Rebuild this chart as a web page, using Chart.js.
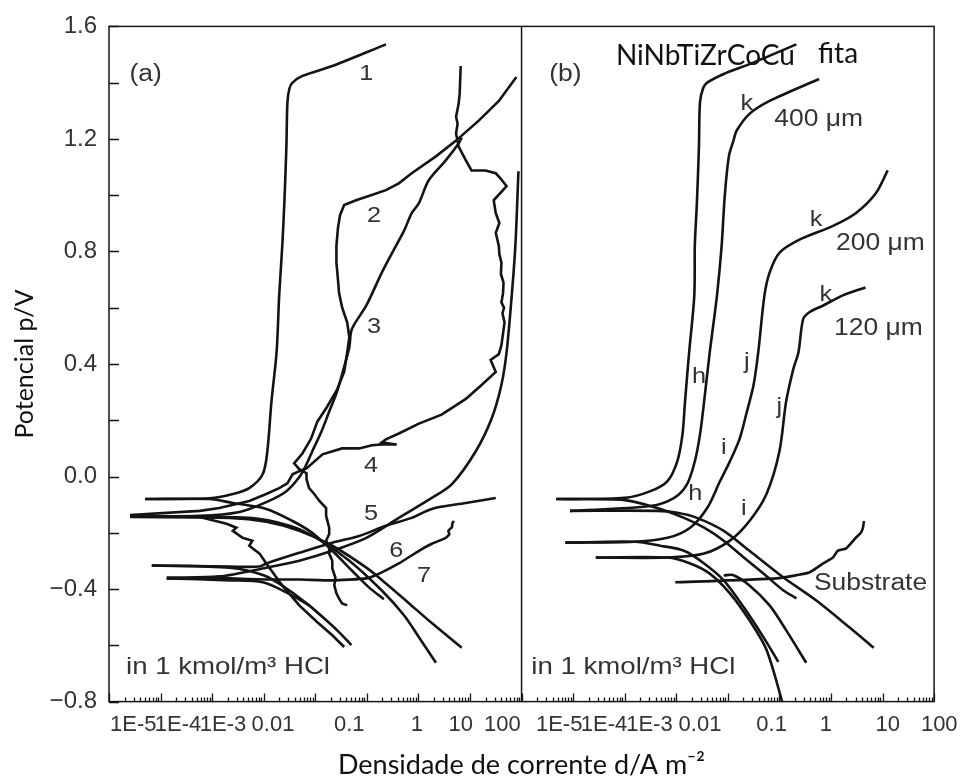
<!DOCTYPE html>
<html>
<head>
<meta charset="utf-8">
<title>Curvas de polarização em HCl</title>
<script src="https://cdn.jsdelivr.net/npm/chart.js@4.4.1/dist/chart.umd.min.js"></script>
<style>
  html, body { margin: 0; padding: 0; background: #fff; }
  #chart { display: block; }
</style>
</head>
<body>
<canvas id="chart" width="965" height="784"></canvas>
<script>
// Values: [log10 of current density (A/m2), potential (V)]

// x tick labels, shared by both panels, and where they sit (log10 units)
const xTickLabels = ["1E-5", "1E-4", "1E-3", "0.01", "0.1", "1", "10", "100"];
const panelATickAt = [-5.53, -4.66, -3.79, -2.82, -1.34, -0.03, 0.82, 1.63];
const panelBTickAt = [-5.27, -4.40, -3.52, -2.54, -1.15, -0.10, 1.10, 2.10];

// panel (a), curves 1..7
const curve1Anodic = [[-5.30,-0.080],[-4.05,-0.077],[-3.60,-0.062],[-3.28,-0.041],[-3.02,0.008],[-2.93,0.089],[-2.85,0.266],[-2.75,0.442],[-2.70,0.643],[-2.64,0.820],[-2.60,0.972],[-2.56,1.173],[-2.54,1.330],[-2.50,1.380],[-2.44,1.400],[-2.25,1.424],[-1.67,1.459],[-0.63,1.536]];
const curve1Cathodic = [[-5.30,-0.080],[-4.05,-0.080],[-3.60,-0.094],[-2.95,-0.115],[-2.44,-0.158],[-2.06,-0.200],[-1.67,-0.264],[-1.29,-0.334],[-0.96,-0.394],[-0.67,-0.436]];
const curve2 = [[-1.38,-0.458],[-1.48,-0.451],[-1.54,-0.433],[-1.59,-0.415],[-1.63,-0.387],[-1.61,-0.359],[-1.67,-0.327],[-1.67,-0.299],[-1.73,-0.274],[-1.73,-0.253],[-1.79,-0.228],[-1.73,-0.204],[-1.73,-0.182],[-1.79,-0.140],[-1.79,-0.112],[-1.92,-0.087],[-2.02,-0.062],[-2.12,-0.041],[-2.17,-0.009],[-2.17,0.012],[-2.31,0.026],[-2.41,0.047],[-2.25,0.082],[-2.08,0.135],[-1.96,0.195],[-1.77,0.248],[-1.58,0.308],[-1.44,0.372],[-1.38,0.442],[-1.34,0.495],[-1.38,0.547],[-1.48,0.601],[-1.54,0.654],[-1.56,0.700],[-1.59,0.760],[-1.59,0.820],[-1.56,0.884],[-1.52,0.929],[-1.44,0.965],[-1.21,0.982],[-0.92,1.000],[-0.63,1.018],[-0.38,1.042],[-0.13,1.078],[0.34,1.138],[0.73,1.194],[1.17,1.265],[1.56,1.335],[1.90,1.420]];
const curve3 = [[-5.59,-0.140],[-4.24,-0.140],[-3.47,-0.126],[-2.95,-0.091],[-2.56,-0.052],[-2.31,-0.002],[-2.17,0.044],[-2.06,0.089],[-1.88,0.160],[-1.73,0.231],[-1.58,0.301],[-1.44,0.390],[-1.34,0.460],[-1.29,0.524],[-1.01,0.608],[-0.71,0.725],[-0.51,0.795],[-0.28,0.873],[-0.13,0.936],[0.01,0.972],[0.20,1.053],[0.53,1.124],[0.78,1.184],[0.84,1.205]];
const curve4 = [[-5.59,-0.137],[-4.24,-0.122],[-3.86,-0.112],[-3.28,-0.087],[-2.95,-0.062],[-2.70,-0.041],[-2.54,-0.024],[-2.44,0.008],[-2.31,0.019],[-2.17,0.029],[-1.86,0.079],[-1.48,0.100],[-1.15,0.100],[-0.90,0.111],[-0.71,0.114],[-0.42,0.114],[-0.71,0.121],[-0.63,0.132],[-0.38,0.153],[0.01,0.188],[0.45,0.220],[0.92,0.276],[1.23,0.326],[1.50,0.372],[1.40,0.414],[1.56,0.435],[1.61,0.467],[1.67,0.548],[1.63,0.580],[1.66,0.600],[1.61,0.619],[1.64,0.650],[1.65,0.689],[1.60,0.720],[1.61,0.760],[1.57,0.790],[1.56,0.820],[1.50,0.866],[1.57,0.901],[1.50,0.936],[1.46,0.982],[1.71,1.032],[1.59,1.060],[1.50,1.078],[1.30,1.088],[1.03,1.088],[0.92,1.124],[0.78,1.173],[0.73,1.219],[0.76,1.254],[0.73,1.279],[0.78,1.325],[0.80,1.360],[0.82,1.459]];
const curve5 = [[-5.17,-0.316],[-3.66,-0.320],[-3.08,-0.320],[-2.95,-0.309],[-2.31,-0.271],[-1.67,-0.235],[-1.15,-0.211],[-0.63,-0.175],[-0.13,-0.147],[0.26,-0.115],[0.92,-0.094],[1.50,-0.076]];
const curve6 = [[-4.88,-0.359],[-3.86,-0.355],[-2.95,-0.324],[-2.31,-0.299],[-1.67,-0.264],[-1.01,-0.218],[-0.38,-0.147],[0.26,-0.076],[0.65,-0.027],[1.11,0.089],[1.42,0.206],[1.61,0.326],[1.71,0.442],[1.81,0.644],[1.88,0.820],[1.94,1.085]];
const curve7 = [[-4.88,-0.362],[-3.66,-0.362],[-2.95,-0.366],[-2.31,-0.366],[-1.67,-0.369],[-1.01,-0.362],[-0.76,-0.345],[-0.38,-0.309],[0.01,-0.264],[0.26,-0.239],[0.53,-0.218],[0.60,-0.205],[0.58,-0.193],[0.65,-0.180],[0.66,-0.165],[0.69,-0.158]];
const cathodicA1 = [[-5.59,-0.144],[-3.66,-0.147],[-2.95,-0.161],[-2.31,-0.193],[-1.67,-0.246],[-1.01,-0.324],[-0.63,-0.380],[-0.18,-0.451],[0.26,-0.521],[0.84,-0.609]];
const cathodicA2 = [[-5.59,-0.140],[-3.28,-0.147],[-2.50,-0.175],[-1.98,-0.218],[-1.34,-0.299],[-0.71,-0.405],[-0.28,-0.493],[0.01,-0.571],[0.34,-0.662]];
const cathodicA3 = [[-5.59,-0.140],[-4.24,-0.144],[-3.72,-0.168],[-3.53,-0.182],[-3.60,-0.193],[-3.41,-0.218],[-3.22,-0.228],[-3.28,-0.246],[-3.08,-0.274],[-2.95,-0.309],[-2.64,-0.387],[-2.31,-0.458],[-1.96,-0.518],[-1.67,-0.564],[-1.44,-0.606]];
const cathodicA4 = [[-5.17,-0.316],[-3.66,-0.324],[-2.99,-0.352],[-2.50,-0.405],[-2.12,-0.458],[-1.83,-0.504],[-1.54,-0.553],[-1.30,-0.599]];
const cathodicA5 = [[-4.88,-0.362],[-3.66,-0.369],[-3.02,-0.376],[-2.56,-0.412],[-2.12,-0.458]];

// panel (b), NiNbTiZrCoCu ribbon, coatings and substrate
const ribbonAnodic = [[-5.33,-0.080],[-4.00,-0.076],[-3.50,-0.052],[-3.17,-0.016],[-2.98,0.054],[-2.88,0.149],[-2.83,0.266],[-2.75,0.442],[-2.65,0.644],[-2.64,0.820],[-2.60,0.972],[-2.56,1.173],[-2.54,1.330],[-2.48,1.380],[-2.40,1.400],[-2.08,1.431],[-1.58,1.466],[-0.67,1.536]];
const ribbonCathodic = [[-5.33,-0.080],[-4.00,-0.084],[-3.37,-0.112],[-2.85,-0.147],[-2.46,-0.182],[-2.08,-0.228],[-1.69,-0.288],[-1.31,-0.345],[-0.92,-0.405],[-0.67,-0.433]];
const coat400Anodic = [[-5.06,-0.122],[-3.50,-0.105],[-3.04,-0.076],[-2.79,-0.027],[-2.64,0.054],[-2.54,0.149],[-2.46,0.266],[-2.35,0.442],[-2.21,0.644],[-2.12,0.820],[-2.06,0.996],[-1.98,1.138],[-1.89,1.194],[-1.83,1.229],[-1.58,1.289],[-1.19,1.335],[-0.23,1.413]];
const coat400Cathodic = [[-5.06,-0.122],[-3.37,-0.122],[-2.98,-0.129],[-2.60,-0.147],[-2.08,-0.193],[-1.58,-0.264],[-0.92,-0.359],[-0.29,-0.440],[0.35,-0.535],[0.83,-0.609]];
const coat200Anodic = [[-5.15,-0.235],[-3.81,-0.232],[-3.17,-0.218],[-2.73,-0.182],[-2.40,-0.112],[-2.15,-0.016],[-1.96,0.054],[-1.77,0.135],[-1.63,0.231],[-1.50,0.326],[-1.41,0.442],[-1.29,0.644],[-1.19,0.725],[-1.00,0.795],[-0.62,0.841],[0.04,0.891],[0.48,0.936],[0.87,1.007],[1.10,1.088]];
const coat200Cathodic = [[-5.15,-0.235],[-3.81,-0.232],[-3.31,-0.246],[-2.85,-0.264],[-2.46,-0.309],[-2.08,-0.369],[-1.69,-0.465],[-1.31,-0.571],[-1.02,-0.659]];
const coat120Anodic = [[-4.56,-0.288],[-3.17,-0.288],[-2.46,-0.274],[-1.96,-0.228],[-1.58,-0.158],[-1.25,-0.062],[-1.00,0.089],[-0.87,0.266],[-0.73,0.382],[-0.63,0.442],[-0.54,0.559],[-0.42,0.584],[-0.15,0.608],[0.23,0.644],[0.67,0.672]];
const coat120Cathodic = [[-4.56,-0.288],[-3.17,-0.288],[-2.73,-0.309],[-2.35,-0.345],[-1.96,-0.415],[-1.58,-0.511],[-1.25,-0.616],[-0.90,-0.830]];
const substrateAnodic = [[-3.02,-0.376],[-1.06,-0.362],[-0.42,-0.341],[-0.15,-0.309],[0.04,-0.288],[0.13,-0.264],[0.29,-0.256],[0.38,-0.239],[0.48,-0.218],[0.58,-0.200],[0.62,-0.182],[0.64,-0.158]];
const substrateCathodic = [[-2.08,-0.352],[-1.90,-0.350],[-1.58,-0.387],[-1.19,-0.458],[-0.87,-0.546],[-0.48,-0.662]];

const ink = "#141414";
const textInk = "#333333";
const helv = "'Liberation Sans', Arial, sans-serif";
const calibriLike = "Lato, 'Open Sans', sans-serif";

// text placed on the plot, anchored in data units of its panel
const notes = [
	{ axis: "xa", text: "(a)", lg: -5.29, e: 1.427, style: "panel" },
	{ axis: "xa", text: "1", lg: -1.01, e: 1.431, style: "mark" },
	{ axis: "xa", text: "2", lg: -0.86, e: 0.926, style: "mark" },
	{ axis: "xa", text: "3", lg: -0.86, e: 0.531, style: "mark" },
	{ axis: "xa", text: "4", lg: -0.92, e: 0.036, style: "mark" },
	{ axis: "xa", text: "5", lg: -0.92, e: -0.133, style: "mark" },
	{ axis: "xa", text: "6", lg: -0.43, e: -0.264, style: "mark" },
	{ axis: "xa", text: "7", lg: 0.11, e: -0.352, style: "mark" },
	{ axis: "xa", text: "in 1 kmol/m\u00b3 HCl", lg: -5.67, e: -0.68, style: "medium", align: "left" },
	{ axis: "xb", text: "(b)", lg: -5.15, e: 1.427, style: "panel" },
	{ axis: "xb", text: "NiNbTiZrCoCu", lg: -4.17, e: 1.494, style: "added", align: "left" },
	{ axis: "xb", text: "fita", lg: -0.25, e: 1.501, style: "added", align: "left" },
	{ axis: "xb", text: "400 \u03bcm", lg: -1.10, e: 1.268, style: "size", align: "left" },
	{ axis: "xb", text: "200 \u03bcm", lg: 0.10, e: 0.827, style: "size", align: "left" },
	{ axis: "xb", text: "120 \u03bcm", lg: 0.06, e: 0.527, style: "size", align: "left" },
	{ axis: "xb", text: "Substrate", lg: -0.33, e: -0.38, style: "size", align: "left" },
	{ axis: "xb", text: "k", lg: -1.63, e: 1.325, style: "mark" },
	{ axis: "xb", text: "k", lg: -0.29, e: 0.912, style: "mark" },
	{ axis: "xb", text: "k", lg: -0.10, e: 0.644, style: "mark" },
	{ axis: "xb", text: "h", lg: -2.56, e: 0.354, style: "mark" },
	{ axis: "xb", text: "h", lg: -2.63, e: -0.062, style: "mark" },
	{ axis: "xb", text: "i", lg: -2.08, e: 0.100, style: "mark" },
	{ axis: "xb", text: "i", lg: -1.69, e: -0.115, style: "mark" },
	{ axis: "xb", text: "j", lg: -1.63, e: 0.407, style: "mark" },
	{ axis: "xb", text: "j", lg: -1.00, e: 0.248, style: "mark" },
	{ axis: "xb", text: "in 1 kmol/m\u00b3 HCl", lg: -5.81, e: -0.68, style: "medium", align: "left" },
];

const noteStyles = {
	panel: { font: "23px " + helv, stretch: 1.15 },
	mark: { font: "22px " + helv, stretch: 1.15 },
	size: { font: "23px " + helv, stretch: 1.15 },
	medium: { font: "24px " + helv, stretch: 1.15 },
	added: { font: "28px " + calibriLike, stretch: 1 },
};

function points(pairs) {
	return pairs.map(([lg, e]) => ({ x: Math.pow(10, lg), y: e }));
}

function curve(pairs, axis, tension) {
	return {
		data: points(pairs),
		xAxisID: axis,
		yAxisID: "y",
		showLine: true,
		fill: false,
		borderColor: ink,
		borderWidth: 2.6,
		pointRadius: 0,
		pointHoverRadius: 0,
		tension: tension === undefined ? 0.3 : tension,
	};
}

function panelAxis(tickAt) {
	return {
		type: "logarithmic",
		position: "bottom",
		stack: "current",
		stackWeight: 1,
		min: 1e-6,
		max: 100,
		grid: { display: false, drawTicks: false },
		border: { display: false },
		afterBuildTicks(scale) {
			scale.ticks = tickAt.map((lg) => ({ value: Math.pow(10, lg) }));
		},
		afterFit(scale) {
			scale.height = 40;
		},
		ticks: {
			autoSkip: false,
			maxRotation: 0,
			minRotation: 0,
			padding: 10,
			color: textInk,
			font: { family: helv, size: 22 },
			callback: (value, index) => xTickLabels[index],
		},
	};
}

// frame, panel divider and the inward tick marks
const framePlugin = {
	id: "frame",
	afterDatasetsDraw(chart) {
		const { ctx, chartArea: a, scales } = chart;
		ctx.save();
		ctx.strokeStyle = ink;
		ctx.lineWidth = 1.5;
		ctx.strokeRect(a.left, a.top, a.right - a.left, a.bottom - a.top);
		ctx.beginPath();
		ctx.moveTo(scales.xb.left, a.top);
		ctx.lineTo(scales.xb.left, a.bottom);
		ctx.stroke();

		ctx.lineWidth = 1.3;
		ctx.beginPath();
		[scales.xa, scales.xb].forEach((s) => {
			for (let d = -6; d <= 2; d++) {
				for (let m = 1; m <= 9; m++) {
					const v = m * Math.pow(10, d);
					if (v < s.min * 0.999 || v > s.max * 1.001) continue;
					const x = Math.round(s.getPixelForValue(v)) + 0.5;
					ctx.moveTo(x, a.bottom);
					ctx.lineTo(x, a.bottom - (m === 1 ? 8 : 4));
				}
			}
		});
		for (let k = 0; k <= 12; k++) {
			const y = Math.round(scales.y.getPixelForValue(-0.8 + k * 0.2)) + 0.5;
			ctx.moveTo(a.left, y);
			ctx.lineTo(a.left + 10, y);
		}
		ctx.stroke();
		ctx.restore();
	},
};

const notesPlugin = {
	id: "notes",
	beforeDatasetsDraw(chart) {
		const { ctx, scales } = chart;
		notes.forEach((n) => {
			const st = noteStyles[n.style];
			const x = scales[n.axis].getPixelForValue(Math.pow(10, n.lg));
			const y = scales.y.getPixelForValue(n.e);
			ctx.save();
			ctx.translate(x, y);
			ctx.scale(st.stretch, 1);
			ctx.font = st.font;
			ctx.fillStyle = n.style === "added" ? "#111" : textInk;
			ctx.textAlign = n.align || "center";
			ctx.textBaseline = "middle";
			ctx.fillText(n.text, 0, 0);
			ctx.restore();
		});
	},
};

const datasets = [
	curve(curve1Anodic, "xa"),
	curve(curve1Cathodic, "xa"),
	curve(curve2, "xa", 0),
	curve(curve3, "xa"),
	curve(curve4, "xa", 0),
	curve(curve5, "xa"),
	curve(curve6, "xa"),
	curve(curve7, "xa", 0.15),
	curve(cathodicA1, "xa"),
	curve(cathodicA2, "xa"),
	curve(cathodicA3, "xa", 0),
	curve(cathodicA4, "xa"),
	curve(cathodicA5, "xa"),
	curve(ribbonAnodic, "xb"),
	curve(ribbonCathodic, "xb"),
	curve(coat400Anodic, "xb"),
	curve(coat400Cathodic, "xb"),
	curve(coat200Anodic, "xb"),
	curve(coat200Cathodic, "xb"),
	curve(coat120Anodic, "xb"),
	curve(coat120Cathodic, "xb"),
	curve(substrateAnodic, "xb", 0.15),
	curve(substrateCathodic, "xb"),
];

Chart.defaults.font.family = helv;

new Chart(document.getElementById("chart").getContext("2d"), {
	type: "scatter",
	data: { datasets: datasets },
	options: {
		responsive: false,
		animation: false,
		events: [],
		layout: { padding: { left: 0, top: 22, right: 26, bottom: 0 } },
		plugins: {
			legend: { display: false },
			tooltip: { enabled: false },
			title: {
				display: true,
				position: "bottom",
				fullSize: false,
				text: "Densidade de corrente d/A m\u207b\u00b2",
				color: "#111",
				font: { family: calibriLike, size: 27, weight: "normal" },
				padding: { top: 7, bottom: 3 },
			},
		},
		scales: {
			xa: panelAxis(panelATickAt),
			xb: panelAxis(panelBTickAt),
			y: {
				type: "linear",
				position: "left",
				min: -0.8,
				max: 1.6,
				grid: { display: false, drawTicks: false },
				border: { display: false },
				afterFit(scale) {
					scale.width = 109;
				},
				ticks: {
					stepSize: 0.4,
					padding: 12,
					color: textInk,
					font: { family: helv, size: 24 },
					callback: (v) => (Math.abs(v) < 1e-9 ? "0.0" : v.toFixed(1).replace("-", "\u2212")),
				},
				title: {
					display: true,
					text: "Potencial p/V",
					color: "#111",
					font: { family: calibriLike, size: 25 },
					padding: { top: 10, bottom: 0 },
				},
			},
		},
	},
	plugins: [framePlugin, notesPlugin],
});
</script>
</body>
</html>
